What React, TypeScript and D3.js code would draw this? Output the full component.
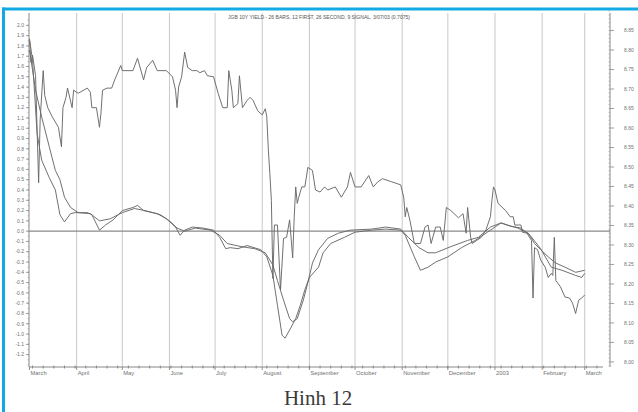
import React from "react";
import * as d3 from "d3";

const START = new Date(2002, 2, 1);
const END = new Date(2003, 2, 13);

const titleText = "JGB 10Y YIELD - 26 BARS, 12 FIRST, 26 SECOND, 9 SIGNAL, 3/07/03 (0.7075)";
const caption = "Hinh 12";

const monthLabels = ["March", "April", "May", "June", "July", "August", "September", "October", "November", "December", "2003", "February", "March"];

const leftTicks = [2.0, 1.9, 1.8, 1.7, 1.6, 1.5, 1.4, 1.3, 1.2, 1.1, 1.0, 0.9, 0.8, 0.7, 0.6, 0.5, 0.4, 0.3, 0.2, 0.1, 0.0, -0.1, -0.2, -0.3, -0.4, -0.5, -0.6, -0.7, -0.8, -0.9, -1.0, -1.1, -1.2];
const rightTicks = [8.85, 8.8, 8.75, 8.7, 8.65, 8.6, 8.55, 8.5, 8.45, 8.4, 8.35, 8.3, 8.25, 8.2, 8.15, 8.1, 8.05, 8.0];

// [day offset from START, value]
const priceLine: [number, number][] = [
  [0, 1.85], [1, 1.64], [2, 1.71], [4, 1.51], [5, 0.98], [6, 0.47], [7, 1.08], [9, 1.56], [10, 1.32], [12, 1.2], [15, 1.11], [19, 1.01], [21, 0.82], [22, 1.2], [24, 1.3], [25, 1.39], [28, 1.2], [29, 1.37], [32, 1.34], [38, 1.39], [40, 1.35], [41, 1.2], [44, 1.2], [46, 1.01], [47, 1.15], [48, 1.37], [51, 1.39], [54, 1.39], [56, 1.47], [60, 1.61], [61, 1.56], [68, 1.56], [71, 1.68], [75, 1.47], [77, 1.59], [81, 1.66], [84, 1.56], [90, 1.56], [94, 1.5], [96, 1.37], [97, 1.2], [98, 1.4], [100, 1.5], [102, 1.74], [104, 1.59], [107, 1.56], [110, 1.56], [112, 1.54], [115, 1.56], [117, 1.51], [121, 1.5], [124, 1.34], [127, 1.2], [130, 1.2], [131, 1.56], [133, 1.37], [134, 1.2], [137, 1.24], [138, 1.51], [140, 1.2], [143, 1.27], [145, 1.3], [147, 1.27], [150, 1.17], [153, 1.13], [155, 1.19], [156, 1.11], [157, 0.79], [158, 0.56], [159, 0.3], [160, -0.46], [161, 0.06], [163, 0.06], [165, -0.57], [167, -0.07], [169, -0.06], [171, 0.11], [173, -0.26], [174, 0.13], [175, 0.43], [176, 0.27], [177, 0.33], [179, 0.43], [181, 0.43], [183, 0.62], [186, 0.59], [188, 0.4], [191, 0.38], [194, 0.43], [196, 0.4], [201, 0.43], [205, 0.33], [209, 0.43], [211, 0.57], [214, 0.43], [218, 0.43], [223, 0.54], [226, 0.43], [229, 0.48], [232, 0.51], [238, 0.48], [244, 0.45], [246, 0.33], [247, 0.14], [248, 0.23], [250, 0.11], [253, -0.12], [257, -0.12], [260, 0.04], [262, 0.06], [264, -0.12], [267, 0.04], [270, 0.04], [272, -0.09], [274, 0.23], [277, 0.2], [282, 0.13], [285, 0.17], [287, -0.02], [288, 0.23], [290, -0.06], [291, -0.12], [294, -0.09], [297, -0.06], [300, 0.01], [303, 0.14], [304, 0.3], [305, 0.43], [306, 0.4], [308, 0.27], [313, 0.2], [316, 0.14], [318, 0.14], [319, 0.06], [323, 0.06], [324, -0.01], [327, -0.02], [330, -0.09], [331, -0.65], [332, -0.16], [334, -0.18], [336, -0.28], [339, -0.35], [341, -0.45], [343, -0.41], [344, -0.43], [345, -0.06], [346, -0.48], [349, -0.54], [352, -0.64], [355, -0.65], [357, -0.7], [359, -0.8], [361, -0.67], [363, -0.65], [365, -0.62],
];

const fastLine: [number, number][] = [
  [0, 1.87], [2, 1.66], [5, 0.95], [8, 0.69], [13, 0.52], [17, 0.4], [20, 0.16], [23, 0.09], [27, 0.17], [30, 0.18], [38, 0.18], [41, 0.16], [46, 0.01], [50, 0.06], [55, 0.11], [61, 0.2], [68, 0.23], [71, 0.25], [75, 0.2], [84, 0.17], [90, 0.12], [96, 0.04], [99, -0.04], [102, 0.01], [107, 0.04], [114, 0.03], [121, 0.01], [125, -0.06], [129, -0.17], [132, -0.16], [137, -0.17], [143, -0.14], [152, -0.18], [156, -0.25], [160, -0.43], [163, -0.72], [166, -1.01], [168, -1.04], [171, -0.96], [175, -0.85], [178, -0.72], [181, -0.57], [184, -0.45], [190, -0.35], [193, -0.21], [198, -0.12], [207, -0.06], [214, -0.01], [225, 0.01], [234, 0.02], [244, 0.01], [247, -0.04], [253, -0.25], [257, -0.38], [262, -0.35], [267, -0.3], [275, -0.25], [284, -0.16], [293, -0.09], [301, -0.01], [306, 0.04], [310, 0.08], [316, 0.05], [321, 0.03], [328, -0.02], [332, -0.12], [336, -0.18], [341, -0.25], [346, -0.31], [352, -0.35], [359, -0.4], [365, -0.38],
];

const slowLine: [number, number][] = [
  [0, 1.76], [4, 1.37], [8, 1.11], [13, 0.82], [17, 0.59], [20, 0.5], [23, 0.33], [27, 0.23], [32, 0.18], [40, 0.17], [46, 0.1], [53, 0.12], [61, 0.18], [69, 0.22], [76, 0.2], [86, 0.16], [92, 0.1], [97, 0.03], [102, 0.0], [109, 0.03], [119, 0.01], [125, -0.04], [130, -0.12], [139, -0.15], [148, -0.17], [155, -0.21], [160, -0.33], [163, -0.48], [167, -0.67], [171, -0.85], [173, -0.88], [176, -0.85], [180, -0.67], [183, -0.5], [186, -0.31], [190, -0.18], [196, -0.07], [203, -0.02], [211, 0.01], [225, 0.02], [234, 0.04], [244, 0.02], [249, -0.06], [256, -0.16], [262, -0.21], [267, -0.21], [277, -0.15], [288, -0.09], [295, -0.06], [303, 0.04], [310, 0.08], [316, 0.05], [323, 0.03], [329, -0.04], [336, -0.17], [343, -0.35], [350, -0.38], [359, -0.43], [363, -0.45], [365, -0.41],
];

const W = 638;
const H = 412;
const PLOT_LEFT = 29;
const PLOT_RIGHT = 610;
const AXIS_END = 603;
const PLOT_TOP = 13;
const PLOT_BOTTOM = 367;
const CYAN = "#13a9e3";
const LINE = "#686868";
const GRID = "#c8c8c8";
const TEXT = "#707070";

export default function App() {
  const x = d3.scaleTime().domain([START, END]).range([PLOT_LEFT + 0.5, AXIS_END]);
  const yL = d3.scaleLinear().domain([-1.32, 2.12]).range([PLOT_BOTTOM, PLOT_TOP]);
  const yR = d3.scaleLinear().domain([7.987, 8.895]).range([PLOT_BOTTOM, PLOT_TOP]);
  const dayX = (d: number) => x(d3.timeDay.offset(START, d));
  const line = d3
    .line<[number, number]>()
    .x((d) => dayX(d[0]))
    .y((d) => yL(d[1]));

  const months = d3.timeMonth.range(START, END);
  const weeks = d3.timeWeek.range(START, END);
  const fmtL = d3.format(".1f");
  const fmtR = d3.format(".2f");
  const leftMinor = d3.range(-1.3, 2.1, 0.05);
  const rightMinor = d3.range(7.99, 8.9, 0.01);

  return (
    <svg width={W} height={H} style={{ position: "absolute", left: 0, top: 0, background: "#fff" }} fontFamily="Liberation Sans, Arial, sans-serif">
      <rect x={0} y={0} width={W} height={H} fill="#fff" />
      {/* cyan frame */}
      <rect x={2} y={7.5} width={W - 2} height={3} fill={CYAN} />
      <rect x={2} y={7.5} width={3} height={H - 7.5} fill={CYAN} />

      {/* vertical month grid */}
      {months.slice(1).map((m, i) => (
        <line key={"g" + i} x1={x(m)} x2={x(m)} y1={PLOT_TOP} y2={PLOT_BOTTOM} stroke={GRID} strokeWidth={1} />
      ))}

      {/* zero line */}
      <line x1={PLOT_LEFT} x2={PLOT_RIGHT} y1={yL(0)} y2={yL(0)} stroke="#8a8a8a" strokeWidth={1.3} />

      {/* title */}
      <text x={228} y={19} fontSize={4.6} fill="#555" textLength={182} lengthAdjust="spacingAndGlyphs">
        {titleText}
      </text>

      {/* left axis */}
      <line x1={PLOT_LEFT} x2={PLOT_LEFT} y1={PLOT_TOP} y2={PLOT_BOTTOM} stroke="#888" strokeWidth={1} />
      {leftMinor.map((v, i) => (
        <line key={"lm" + i} x1={PLOT_LEFT - 1.5} x2={PLOT_LEFT} y1={yL(v)} y2={yL(v)} stroke="#999" strokeWidth={0.6} />
      ))}
      {leftTicks.map((v, i) => (
        <g key={"lt" + i}>
          <line x1={PLOT_LEFT - 3} x2={PLOT_LEFT} y1={yL(v)} y2={yL(v)} stroke="#888" strokeWidth={0.8} />
          <text x={PLOT_LEFT - 5} y={yL(v)} dy="0.35em" textAnchor="end" fontSize={5} fill={TEXT}>
            {fmtL(v).replace("−", "-")}
          </text>
        </g>
      ))}

      {/* right axis */}
      <line x1={PLOT_RIGHT} x2={PLOT_RIGHT} y1={PLOT_TOP} y2={PLOT_BOTTOM} stroke="#888" strokeWidth={1} />
      {rightMinor.map((v, i) => (
        <line key={"rm" + i} x1={PLOT_RIGHT - 1.5} x2={PLOT_RIGHT} y1={yR(v)} y2={yR(v)} stroke="#999" strokeWidth={0.6} />
      ))}
      {rightTicks.map((v, i) => (
        <g key={"rt" + i}>
          <line x1={PLOT_RIGHT} x2={PLOT_RIGHT + 4} y1={yR(v)} y2={yR(v)} stroke="#888" strokeWidth={0.8} />
          <text x={PLOT_RIGHT + 14} y={yR(v)} dy="0.35em" textAnchor="start" fontSize={5} fill={TEXT}>
            {fmtR(v)}
          </text>
        </g>
      ))}

      {/* bottom axis */}
      <line x1={PLOT_LEFT} x2={AXIS_END} y1={PLOT_BOTTOM} y2={PLOT_BOTTOM} stroke="#888" strokeWidth={1} />
      {weeks.map((w, i) => (
        <line key={"wk" + i} x1={x(w)} x2={x(w)} y1={PLOT_BOTTOM - 1.5} y2={PLOT_BOTTOM + 1.5} stroke="#777" strokeWidth={0.8} />
      ))}
      {months.map((m, i) => (
        <g key={"ml" + i}>
          <line x1={x(m)} x2={x(m)} y1={PLOT_BOTTOM} y2={PLOT_BOTTOM + 3} stroke="#777" strokeWidth={0.8} />
          <text x={x(m) + 1} y={PLOT_BOTTOM + 8} fontSize={5.8} fill={TEXT}>
            {monthLabels[i]}
          </text>
        </g>
      ))}

      {/* series */}
      <path d={line(slowLine) || ""} fill="none" stroke={LINE} strokeWidth={0.95} strokeLinejoin="round" />
      <path d={line(fastLine) || ""} fill="none" stroke={LINE} strokeWidth={0.95} strokeLinejoin="round" />
      <path d={line(priceLine) || ""} fill="none" stroke={LINE} strokeWidth={0.95} strokeLinejoin="round" />

      {/* caption */}
      <text x={318} y={405} textAnchor="middle" fontFamily="Liberation Serif, Times New Roman, serif" fontSize={21} fill="#3a3a3a">
        {caption}
      </text>
    </svg>
  );
}
